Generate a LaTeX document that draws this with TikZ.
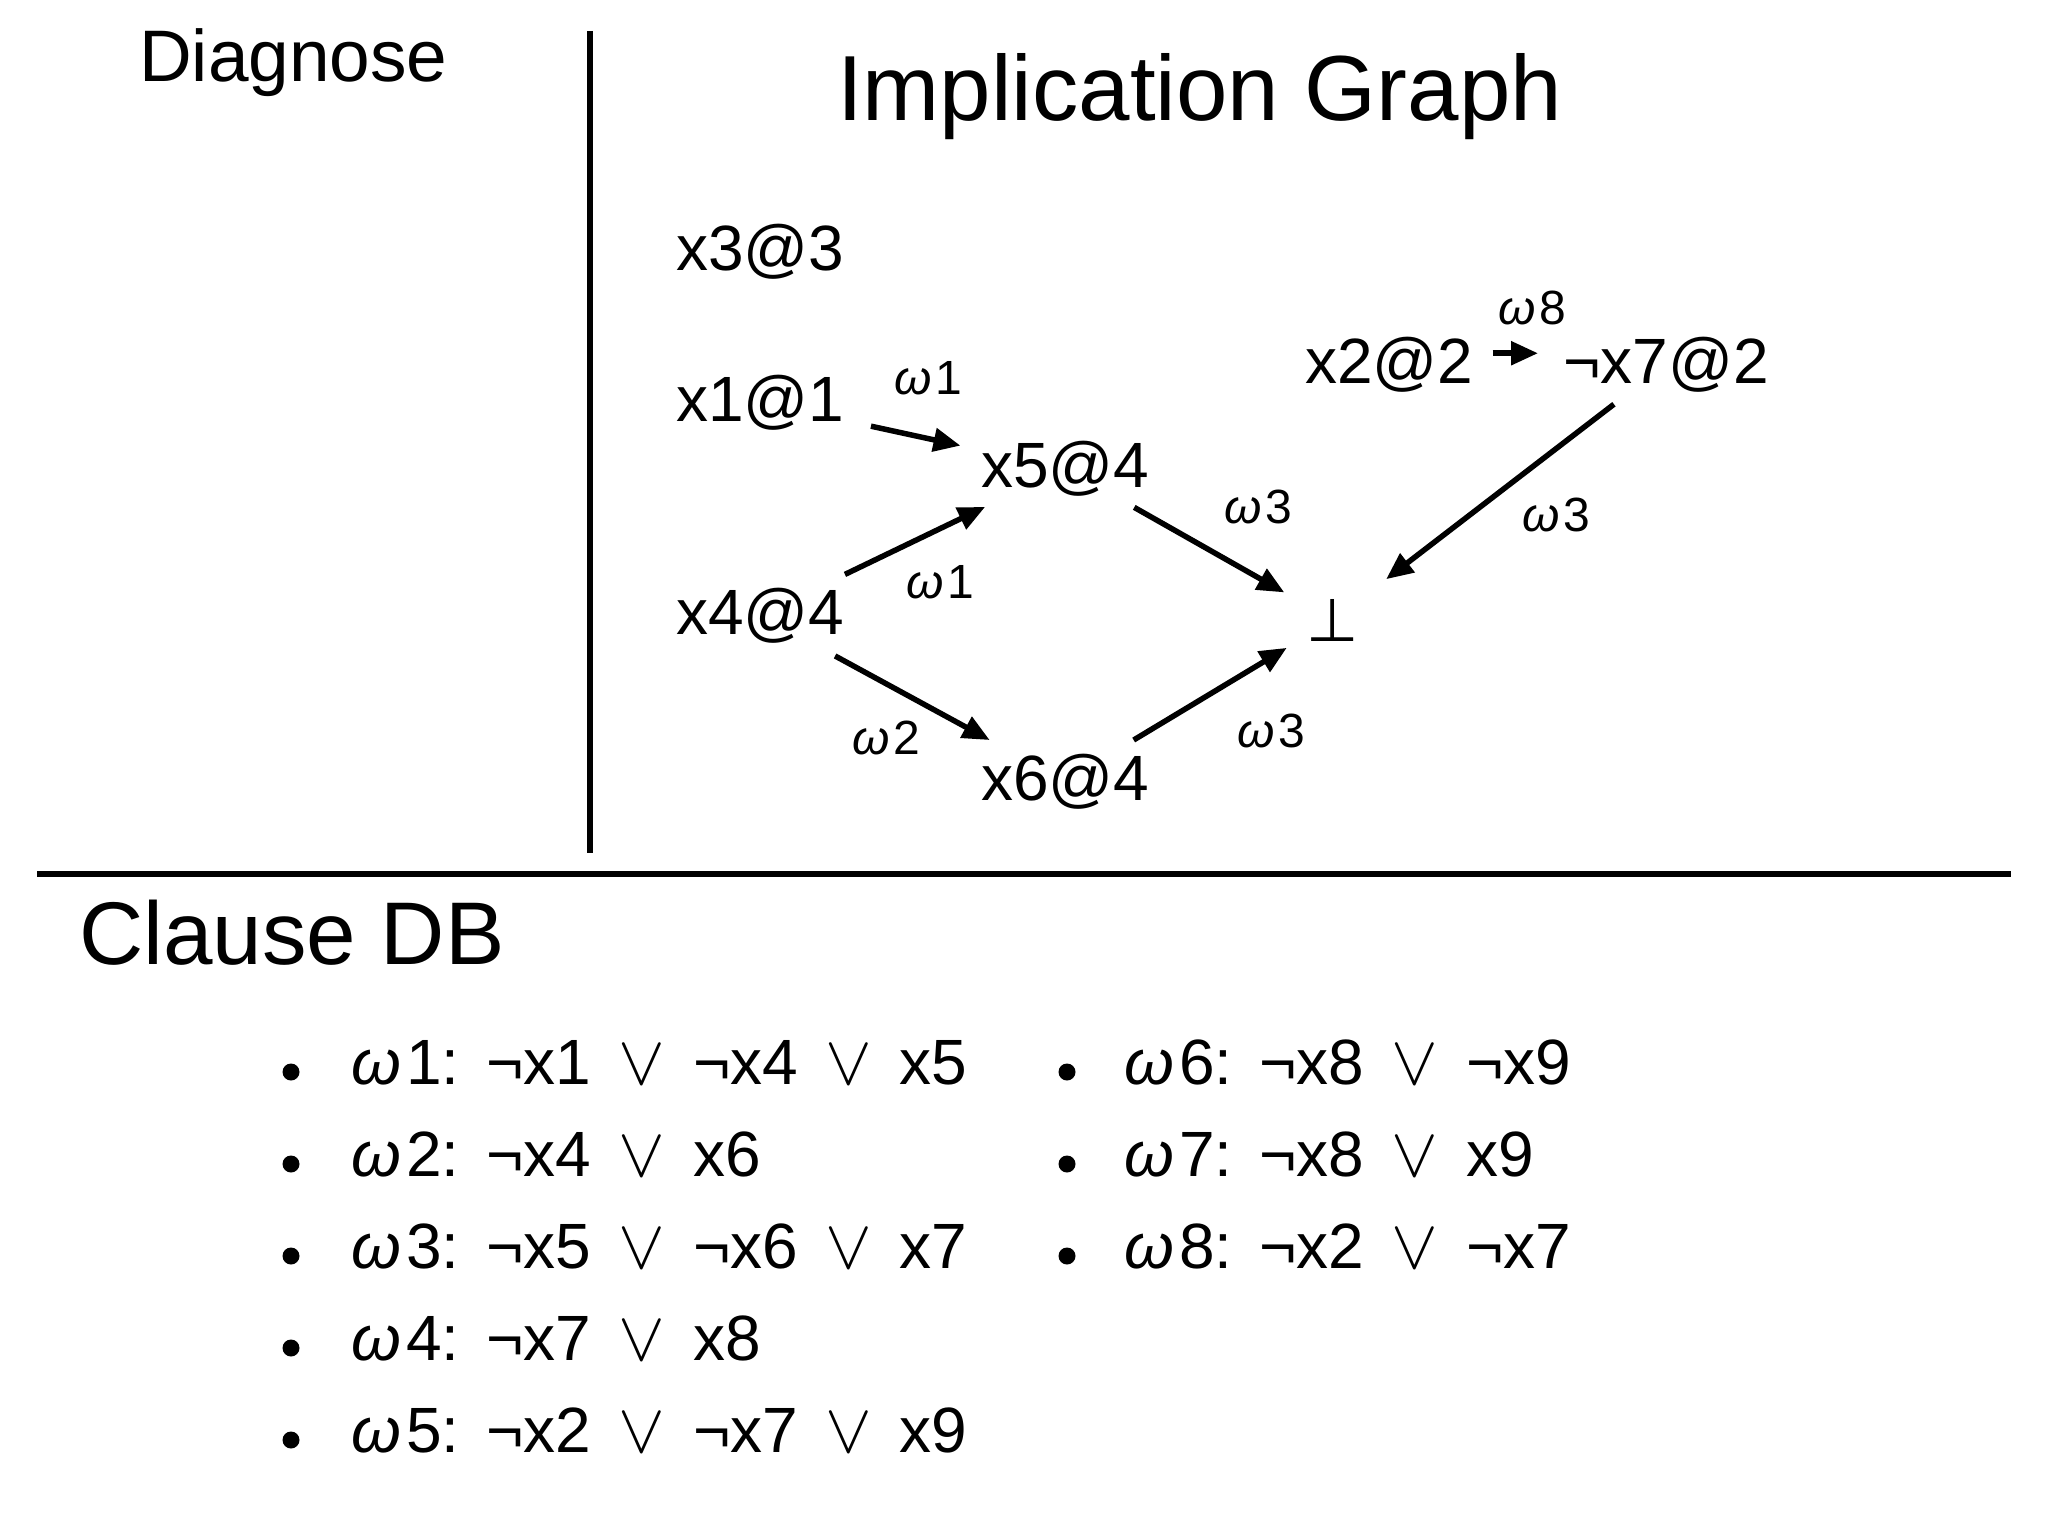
\documentclass[tikz,border=0pt]{standalone}
\usepackage{fontspec}
\usepackage{graphicx}
\setmainfont{Liberation Sans}
\newfontfamily\symfont{DejaVu Sans}
\usetikzlibrary{arrows.meta}
\newcommand\Or{\hspace{0.43em}{\fontsize{10}{12}\selectfont\scalebox{7}{$\vee$}}\hspace{0.43em}}
\newcommand\Om[1]{\textit{ω}\hspace{0.08em}#1}
\newcommand\Cl[1]{\Om{#1}:\hspace{0.42em}}
\begin{document}
\begin{tikzpicture}[x=1pt,y=-1pt,
  lit/.style={inner sep=0pt,anchor=base west,font=\fontsize{64}{70}\selectfont},
  lab/.style={inner sep=0pt,font=\fontsize{48}{52}\selectfont},
  arr/.style={line width=5.5pt,-{Triangle[length=27pt,width=23pt]}},
  cl/.style={inner sep=0pt,anchor=base west,font=\fontsize{64}{70}\selectfont},
  ttl/.style={inner sep=0pt,anchor=base west},
  rule/.style={line width=6pt}]
\useasboundingbox (0,0) rectangle (2048,1536);
\fill[white] (0,0) rectangle (2048,1536);
% titles
\node[ttl,font=\fontsize{73}{80}\selectfont] (diag) at (139,82) {Diagnose};
\node[ttl,font=\fontsize{92.5}{100}\selectfont] (title) at (837,121) {Implication Graph};
\node[ttl,font=\fontsize{89}{96}\selectfont] (cdb) at (79,964) {Clause DB};
% separators
\coordinate (vt) at (590,31);
\coordinate (vb) at (590,853);
\coordinate (hl) at (37,874);
\coordinate (hr) at (2011,874);
\draw[rule] (vt) -- (vb);
\draw[rule] (hl) -- (hr);
% graph nodes
\node[lit] (x3) at (676,270) {x3@3};
\node[lit] (x1) at (676,421) {x1@1};
\node[lit] (x5) at (981,487) {x5@4};
\node[lit] (x4) at (676,634) {x4@4};
\node[lit] (x6) at (981,800) {x6@4};
\node[lit] (x2) at (1305,383) {x2@2};
\node[lit] (nx7) at (1563,383) {¬x7@2};
\node[inner sep=0pt,font={\symfont\fontsize{60}{66}\selectfont}] (bot) at (1333,620) {⊥};
% edges
\draw[arr,shorten <=27pt,shorten >=21pt] (x1) -- (x5);
\draw[arr,shorten <=30pt,shorten >=25pt] (x4) -- (x5);
\draw[arr,shorten <=23pt,shorten >=56pt] (x5) -- (bot.center);
\draw[arr,shorten <=27pt,shorten >=28pt] (x4) -- (x6);
\draw[arr,shorten <=26pt,shorten >=54pt] (x6) -- (bot.center);
\draw[arr,shorten <=19pt,shorten >=25pt] ([yshift=11pt]x2.east) -- ([yshift=11pt]nx7.west);
\draw[arr,shorten <=20pt,shorten >=67pt] (nx7) -- (bot.center);
% edge labels
\node[lab] (l8) at (1532,308) {\Om{8}};
\node[lab] (l1a) at (928,378) {\Om{1}};
\node[lab] (l1b) at (940,582) {\Om{1}};
\node[lab] (l3a) at (1258,507) {\Om{3}};
\node[lab] (l2) at (886,738) {\Om{2}};
\node[lab] (l3b) at (1271,731) {\Om{3}};
\node[lab] (l3c) at (1556,515) {\Om{3}};
% clause DB
\foreach \yy in {1084,1176,1268,1360,1452} {\fill (291,\yy-12) circle (8.5pt);}
\foreach \yy in {1084,1176,1268} {\fill (1067,\yy-12) circle (8.5pt);}
\node[cl] (c1) at (351,1084) {\Cl{1}¬x1\Or ¬x4\Or x5};
\node[cl] (c2) at (351,1176) {\Cl{2}¬x4\Or x6};
\node[cl] (c3) at (351,1268) {\Cl{3}¬x5\Or ¬x6\Or x7};
\node[cl] (c4) at (351,1360) {\Cl{4}¬x7\Or x8};
\node[cl] (c5) at (351,1452) {\Cl{5}¬x2\Or ¬x7\Or x9};
\node[cl] (c6) at (1124,1084) {\Cl{6}¬x8\Or ¬x9};
\node[cl] (c7) at (1124,1176) {\Cl{7}¬x8\Or x9};
\node[cl] (c8) at (1124,1268) {\Cl{8}¬x2\Or ¬x7};
\end{tikzpicture}
\end{document}
